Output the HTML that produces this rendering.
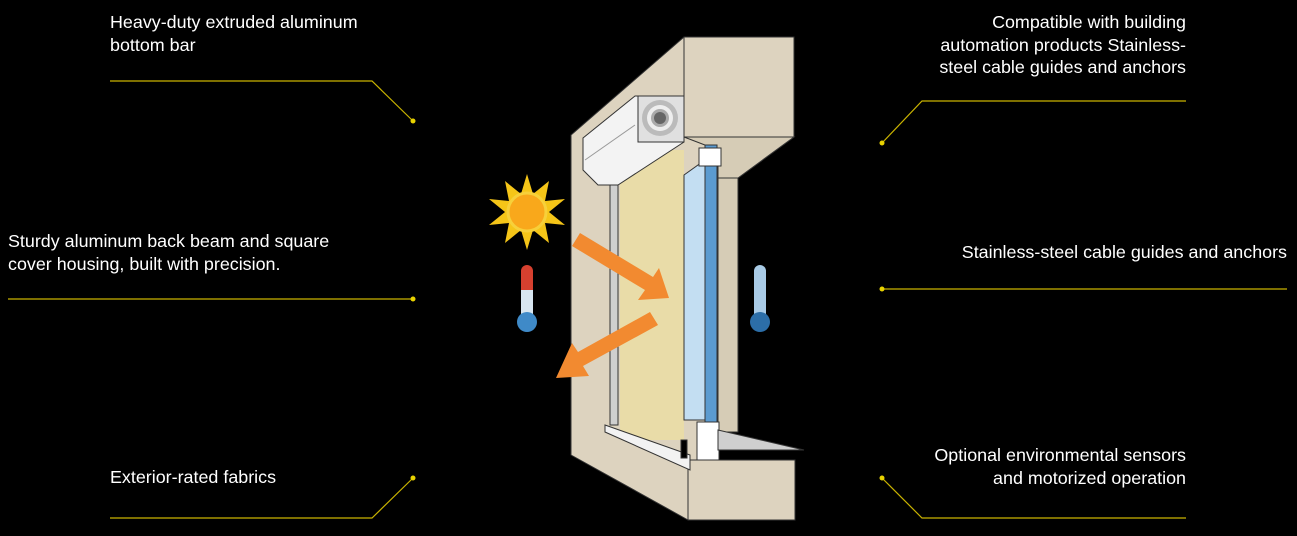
<!DOCTYPE html>
<html><head><meta charset="utf-8"><style>
html,body{margin:0;padding:0;background:#000;}
#c{position:relative;width:1297px;height:536px;overflow:hidden;background:#000;font-family:"Liberation Sans",sans-serif;color:#fff;font-size:17.9px;line-height:22.5px;}
.t{position:absolute;white-space:nowrap;}
.r{text-align:right;}
svg{position:absolute;left:0;top:0;}
</style></head><body><div id="c">
<svg width="1297" height="536" viewBox="0 0 1297 536">
<g stroke="#c9b300" stroke-width="1.2" fill="none">
<polyline points="110,81 372,81 413,121"/>
<polyline points="8,299 413,299"/>
<polyline points="413,478 372,518 110,518"/>
<polyline points="882,143 922,101 1186,101"/>
<polyline points="882,289 1287,289"/>
<polyline points="882,478 922,518 1186,518"/>
</g>
<g fill="#e8d200">
<circle cx="413" cy="121" r="2.5"/><circle cx="413" cy="299" r="2.5"/><circle cx="413" cy="478" r="2.5"/>
<circle cx="882" cy="143" r="2.5"/><circle cx="882" cy="289" r="2.5"/><circle cx="882" cy="478" r="2.5"/>
</g>
<g stroke="#333" stroke-width="1">
<polygon points="571,135 684,37 794,37 794,137 738,178 738,432 700,432 700,460 688,520 571,455" fill="#ddd3bf"/>
<polygon points="684,37 794,37 794,137 684,137" fill="#ddd3bf"/>
<polygon points="688,460 795,460 795,520 688,520" fill="#ddd3bf"/>
<polygon points="718,150 738,178 738,432 718,432" fill="#d6ccb6"/>
<polygon points="684,137 794,137 738,178 718,178 718,150" fill="#d6ccb6"/>
<polygon points="610,185 618,185 618,425 610,425" fill="#cfcfcf"/>
<polygon points="620,150 684,150 684,440 620,440" fill="#e9dca8" stroke="none"/>
<polygon points="684,175 705,160 705,420 684,420" fill="#c3def2"/>
<rect x="705" y="145" width="12" height="285" fill="#5b9bd0"/>
<rect x="699" y="148" width="22" height="18" fill="#fff"/>
<rect x="697" y="422" width="22" height="38" fill="#fff"/>
<polygon points="718,430 804,450 718,450" fill="#cfcfcf"/>
<polygon points="605,425 690,455 690,470 605,432" fill="#f2f2f2"/>
<rect x="681" y="440" width="6" height="18" fill="#000"/>
<polygon points="583,138 635,96 684,96 684,142 618,185 598,185 583,170" fill="#f3f3f3"/>
<rect x="638" y="96" width="46" height="46" fill="#e0e0e0"/>
</g>
<circle cx="660" cy="118" r="18" fill="#bbb"/><circle cx="660" cy="118" r="13" fill="#eee"/><circle cx="660" cy="118" r="9" fill="#aaa"/><circle cx="660" cy="118" r="6" fill="#666"/>
<line x1="585" y1="160" x2="635" y2="125" stroke="#999"/>
<g fill="#f5c518">
<polygon points="527,174 533,194 549,181 545,201 565,199 549,212 565,225 545,223 549,243 533,230 527,250 521,230 505,243 509,223 489,225 505,212 489,199 509,201 505,181 521,194"/>
</g>
<circle cx="527" cy="212" r="19" fill="#f9a81b" stroke="#f7d03a" stroke-width="3"/>
<g fill="#f28a30">
<polygon points="580,233 653,277 659,268 669,298 638,300 645,290 572,246"/>
<polygon points="650,312 578,352 572,343 556,378 589,376 583,366 658,325"/>
</g>
<rect x="521" y="265" width="12" height="55" rx="6" fill="#d6402f"/>
<rect x="521" y="290" width="12" height="30" fill="#d8e6f0"/>
<circle cx="527" cy="322" r="10" fill="#3f8ac8"/>
<rect x="754" y="265" width="12" height="55" rx="6" fill="#a9cbe6"/>
<circle cx="760" cy="322" r="10" fill="#2c6ea8"/>
</svg>
<div class="t" style="left:110px;top:11px;">Heavy-duty extruded aluminum<br>bottom bar</div>
<div class="t" style="left:8px;top:230px;">Sturdy aluminum back beam and square<br>cover housing, built with precision.</div>
<div class="t" style="left:110px;top:466px;">Exterior-rated fabrics</div>
<div class="t r" style="right:111px;top:11px;">Compatible with building<br>automation products Stainless-<br>steel cable guides and anchors</div>
<div class="t r" style="right:10px;top:241px;">Stainless-steel cable guides and anchors</div>
<div class="t r" style="right:111px;top:444px;">Optional environmental sensors<br>and motorized operation</div>
</div></body></html>
